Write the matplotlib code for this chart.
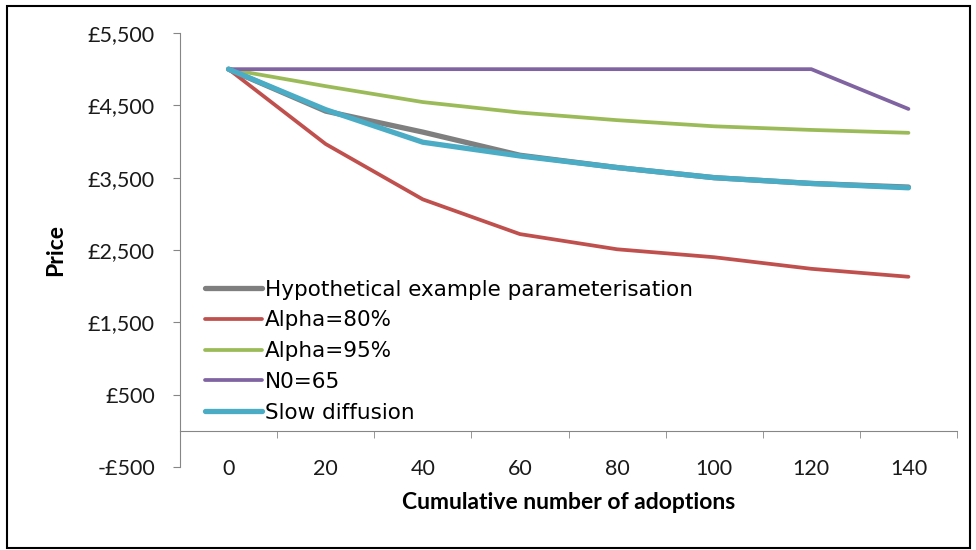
import numpy as np
import matplotlib
matplotlib.use("Agg")
from matplotlib import pyplot as plt
from matplotlib.patches import Rectangle
from matplotlib.ticker import FuncFormatter

adoptions = ["0", "20", "40", "60", "80", "100", "120", "140"]

hypothetical = [5000, 4420, 4130, 3810, 3640, 3500, 3420, 3370]
alpha_80 = [5000, 3965, 3200, 2720, 2510, 2400, 2240, 2130]
alpha_95 = [5000, 4765, 4545, 4400, 4295, 4210, 4160, 4120]
n0_65 = [5000, 5000, 5000, 5000, 5000, 5000, 5000, 4450]
slow_diffusion = [5000, 4440, 3990, 3800, 3640, 3500, 3420, 3360]

series_names = ["Hypothetical example parameterisation", "Alpha=80%",
                "Alpha=95%", "N0=65", "Slow diffusion"]

plt.rcParams['font.family'] = ['Lato', 'DejaVu Sans']

fig = plt.figure(figsize=(9.76, 5.5), dpi=100)
ax = fig.add_axes([180 / 976, 1 - 467 / 550, 777 / 976, 434 / 550])

x = np.arange(len(adoptions))
ax.plot(x, hypothetical, color='#7f7f7f', lw=3.8, label=series_names[0], solid_capstyle='round')
ax.plot(x, alpha_80, color='#c0504d', lw=2.7, label=series_names[1], solid_capstyle='round')
ax.plot(x, alpha_95, color='#9bbb59', lw=2.7, label=series_names[2], solid_capstyle='round')
ax.plot(x, n0_65, color='#8064a2', lw=2.7, label=series_names[3], solid_capstyle='round')
ax.plot(x, slow_diffusion, color='#4bacc6', lw=3.8, label=series_names[4], solid_capstyle='round')

ax.set_xlim(-0.5, len(adoptions) - 0.5)
ax.set_ylim(-500, 5500)
ax.set_yticks(np.arange(-500, 5501, 1000))
ax.yaxis.set_major_formatter(FuncFormatter(
    lambda v, p: ("-£{:,.0f}" if v < 0 else "£{:,.0f}").format(abs(v))))

ax.spines['top'].set_visible(False)
ax.spines['right'].set_visible(False)
ax.spines['left'].set_color('#868686')
ax.spines['bottom'].set_color('#868686')
ax.spines['bottom'].set_position(('data', 0))

ax.set_xticks(x)
ax.set_xticklabels(adoptions)
ax.set_xticks(np.arange(-0.5, len(adoptions)), minor=True)
ax.tick_params(axis='x', which='major', length=0, pad=20, labelsize=15.5, colors='#1a1a1a')
ax.tick_params(axis='x', which='minor', length=5, direction='out', color='#868686')
ax.tick_params(axis='y', length=5, direction='out', color='#868686', labelsize=15.5,
               labelcolor='#1a1a1a', pad=13)

ax.set_ylabel("Price", fontsize=16.5, fontweight='bold')
ax.yaxis.set_label_coords(-0.147, 0.5)
ax.set_xlabel("Cumulative number of adoptions", fontsize=16.5, fontweight='bold')
ax.xaxis.set_label_coords(0.5, -0.058)

leg = ax.legend(loc='lower left', bbox_to_anchor=(0.032, 0.102), frameon=False,
                handlelength=2.65, handletextpad=0.15, labelspacing=0.5,
                borderaxespad=0.0, borderpad=0.0,
                prop={'family': 'DejaVu Sans', 'size': 15.5})

fig.patches.append(Rectangle((7 / 976, 2 / 550), 963 / 976, 542 / 550, transform=fig.transFigure,
                             fill=False, edgecolor='black', lw=1.5))

fig.savefig("out.png", dpi=100)
